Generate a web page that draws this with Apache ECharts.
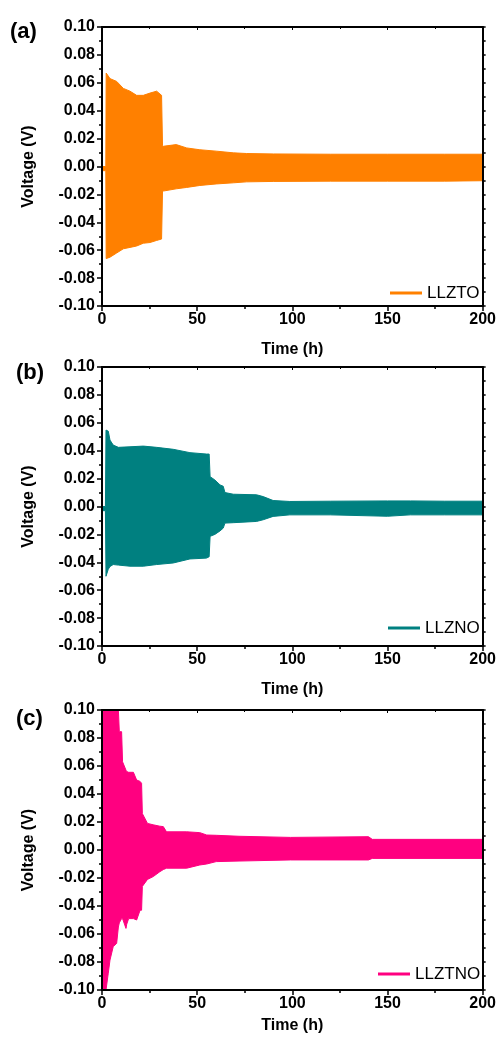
<!DOCTYPE html>
<html><head><meta charset="utf-8">
<script src="https://cdn.jsdelivr.net/npm/echarts@6/dist/echarts.min.js"></script>
<style>html,body{margin:0;padding:0;background:#fff}#c{width:499px;height:1044px}</style>
</head><body><div id="c"></div>
<script>
// ---- Data (envelopes of the voltage oscillation) ----
const timeA  = [0, 2, 2.2, 4.2, 7.7, 11.2, 14.7, 18.2, 21.7, 25.2, 28.7, 31.3, 31.8, 32.2, 39, 44.5, 51.4, 60, 69, 76, 90, 120, 150, 180, 200];
const upperA = [0.000, 0.000, 0.067, 0.063, 0.061, 0.056, 0.054, 0.051, 0.051, 0.0526, 0.054, 0.051, 0.015, 0.0145, 0.0157, 0.0133, 0.012, 0.011, 0.0098, 0.0093, 0.009, 0.0088, 0.0088, 0.0088, 0.0088];
const lowerA = [-0.003, -0.003, -0.066, -0.065, -0.062, -0.059, -0.058, -0.057, -0.055, -0.0545, -0.053, -0.052, -0.0176, -0.0176, -0.016, -0.015, -0.0136, -0.0125, -0.0117, -0.011, -0.0107, -0.0105, -0.0105, -0.0105, -0.0102];

const timeB  = [0, 1.8, 2.1, 3.3, 4.2, 5.9, 8.6, 14.7, 21.7, 28.7, 37.4, 46.2, 54.9, 56.3, 56.8, 59.3, 62, 63.7, 64.6, 69, 81.2, 84.7, 89.9, 98.7, 120, 150, 162, 180, 200];
const upperB = [0.000, 0.000, 0.0548, 0.054, 0.0476, 0.044, 0.0424, 0.0428, 0.0433, 0.0424, 0.041, 0.0386, 0.0376, 0.0376, 0.0214, 0.019, 0.0155, 0.0145, 0.010, 0.0088, 0.0084, 0.0071, 0.0043, 0.0036, 0.0038, 0.004, 0.004, 0.0038, 0.0038];
const lowerB = [-0.003, -0.003, -0.050, -0.045, -0.043, -0.0416, -0.042, -0.0428, -0.0428, -0.0416, -0.0405, -0.0376, -0.037, -0.036, -0.0214, -0.020, -0.0175, -0.0155, -0.0119, -0.0116, -0.0107, -0.0095, -0.0071, -0.006, -0.006, -0.007, -0.006, -0.006, -0.006];

const timeC  = [0, 0.5, 2.1, 3.3, 4.2, 5.9, 7.7, 8.6, 9.1, 10.3, 10.8, 12.6, 13, 14, 16.5, 18.2, 20, 20.8, 21.2, 23.9, 26.9, 30.4, 32.2, 33.9, 44.5, 51.4, 55, 60, 72, 99, 140, 142, 200];
const upperC = [0.000, 0.10, 0.10, 0.10, 0.10, 0.10, 0.10, 0.10, 0.0845, 0.0845, 0.063, 0.057, 0.056, 0.0555, 0.0555, 0.050, 0.049, 0.0476, 0.026, 0.019, 0.018, 0.017, 0.0167, 0.013, 0.013, 0.0124, 0.0107, 0.0105, 0.0098, 0.009, 0.0095, 0.0076, 0.0076];
const lowerC = [0.000, -0.10, -0.10, -0.088, -0.0786, -0.069, -0.0667, -0.055, -0.052, -0.049, -0.049, -0.056, -0.053, -0.049, -0.049, -0.050, -0.043, -0.043, -0.026, -0.021, -0.019, -0.0155, -0.014, -0.013, -0.013, -0.0107, -0.010, -0.0083, -0.0079, -0.0071, -0.0071, -0.006, -0.006];

const seriesNames = ['LLZTO', 'LLZNO', 'LLZTNO'];
const panelLabels = ['(a)', '(b)', '(c)'];
const xName = 'Time (h)';
const yName = 'Voltage (V)';

// ---- Layout / style ----
const FONT = '"Liberation Sans", Arial, Helvetica, sans-serif';
const colors = ['#FF8000', '#008080', '#FF0080'];
const gridTops = [27, 367, 710];
const gridHeights = [279, 279, 280];
const panels = [[timeA, upperA, lowerA], [timeB, upperB, lowerB], [timeC, upperC, lowerC]];

const axisLineStyle = { color: '#000', width: 2 };
const grids = [], xAxes = [], yAxes = [], series = [], legends = [], graphics = [];

for (let i = 0; i < 3; i++) {
  grids.push({ left: 102, top: gridTops[i], width: 381, height: gridHeights[i], containLabel: false });
}
for (let i = 0; i < 3; i++) {
  xAxes.push({
    gridIndex: i, type: 'value', min: 0, max: 200, interval: 50, position: 'bottom', z: 5,
    axisLine: { show: true, onZero: false, lineStyle: axisLineStyle },
    axisTick: { show: true, inside: false, length: 5, lineStyle: { color: '#000', width: 1.5 } },
    minorTick: { show: true, splitNumber: 2, length: 3, lineStyle: { color: '#000', width: 1.5 } },
    splitLine: { show: false },
    axisLabel: { show: true, margin: 6, color: '#000', fontSize: 16, fontWeight: 'bold', fontFamily: FONT },
    name: xName, nameLocation: 'middle', nameGap: i === 2 ? 28 : 36,
    nameTextStyle: { color: '#000', fontSize: 16, fontWeight: 'bold', fontFamily: FONT }
  });
}
for (let i = 0; i < 3; i++) {
  xAxes.push({
    gridIndex: i, type: 'value', min: 0, max: 200, interval: 50, position: 'top', z: 5,
    axisLine: { show: true, onZero: false, lineStyle: axisLineStyle },
    axisTick: { show: true, inside: true, length: 3, lineStyle: { color: '#000', width: 1 } },
    minorTick: { show: true, splitNumber: 2, length: 2, lineStyle: { color: '#000', width: 1 } },
    splitLine: { show: false }, axisLabel: { show: false }
  });
}
for (let i = 0; i < 3; i++) {
  yAxes.push({
    gridIndex: i, type: 'value', min: -0.1, max: 0.1, interval: 0.02, position: 'left', z: 5,
    axisLine: { show: true, onZero: false, lineStyle: axisLineStyle },
    axisTick: { show: true, inside: false, length: 5, lineStyle: { color: '#000', width: 1.5 } },
    minorTick: { show: true, splitNumber: 2, length: 3, lineStyle: { color: '#000', width: 1.5 } },
    splitLine: { show: false },
    axisLabel: { show: true, margin: 7, color: '#000', fontSize: 16, fontWeight: 'bold', fontFamily: FONT,
      formatter: v => v.toFixed(2) },
    name: yName, nameLocation: 'middle', nameGap: 65,
    nameTextStyle: { color: '#000', fontSize: 16, fontWeight: 'bold', fontFamily: FONT }
  });
}
for (let i = 0; i < 3; i++) {
  yAxes.push({
    gridIndex: i, type: 'value', min: -0.1, max: 0.1, interval: 0.02, position: 'right', z: 5,
    axisLine: { show: true, onZero: false, lineStyle: axisLineStyle },
    axisTick: { show: true, inside: false, length: 3, lineStyle: { color: '#000', width: 1.5 } },
    minorTick: { show: true, splitNumber: 2, length: 3, lineStyle: { color: '#000', width: 1.5 } },
    splitLine: { show: false }, axisLabel: { show: false }
  });
}

function makeRender(t, up, lo, color) {
  return function (params, api) {
    if (params.dataIndex !== 0) return null;
    const pts = [];
    for (let k = 0; k < t.length; k++) pts.push(api.coord([t[k], up[k]]));
    for (let k = t.length - 1; k >= 0; k--) pts.push(api.coord([t[k], lo[k]]));
    return { type: 'polygon', shape: { points: pts }, style: { fill: color, stroke: color, lineWidth: 1 } };
  };
}

for (let i = 0; i < 3; i++) {
  const [t, up, lo] = panels[i];
  series.push({
    type: 'custom', name: seriesNames[i], xAxisIndex: i, yAxisIndex: i, clip: true,
    itemStyle: { color: colors[i] },
    renderItem: makeRender(t, up, lo, colors[i]),
    encode: { x: 0, y: [1, 2] },
    data: t.map((v, k) => [v, up[k], lo[k]]),
    silent: true, animation: false
  });
}

const legendLeft = [390, 388, 378];
const legendTop = [284.5, 619.5, 965.5];
for (let i = 0; i < 3; i++) {
  legends.push({
    data: [{ name: seriesNames[i], icon: 'rect' }], left: legendLeft[i], top: legendTop[i], padding: 0,
    itemWidth: 32, itemHeight: 3, selectedMode: false,
    textStyle: { color: '#000', fontSize: 17, fontFamily: FONT, lineHeight: 17 }
  });
}

const labelPos = [[10, 21], [16, 362], [16, 708]];
for (let i = 0; i < 3; i++) {
  graphics.push({
    type: 'text', left: labelPos[i][0], top: labelPos[i][1],
    style: { text: panelLabels[i], fill: '#000', font: 'bold 22px ' + FONT }
  });
}

const chart = echarts.init(document.getElementById('c'), null, { renderer: 'canvas' });
chart.setOption({
  animation: false,
  backgroundColor: '#fff',
  grid: grids, xAxis: xAxes, yAxis: yAxes, series: series, legend: legends, graphic: graphics
});
</script></body></html>
